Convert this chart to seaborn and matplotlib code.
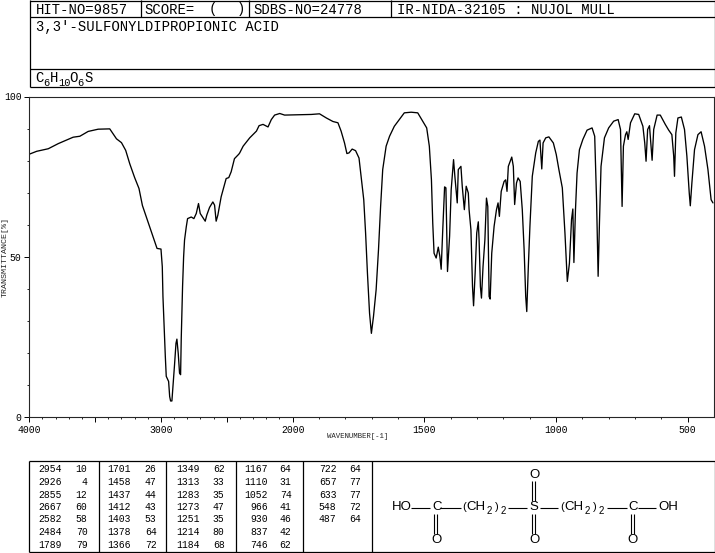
import numpy as np
import seaborn as sns
import matplotlib
matplotlib.use('Agg')
import matplotlib.pyplot as plt
from matplotlib.ticker import FixedLocator

# spectrum
wn_high = [4000,3944,3856,3780,3667,3616,3553,3477,3389,3338,3300,3268,3237,3200,3167,3141,3099,3061,3030,3000,
           2990,2985,2977,2967,2960,2942,2934,2927,2917,2909,2897,2886,2879,2869,2859,2851,2846,2836,2828,2821,
           2808,2798,2770,2750,2732,2715,2702,2664,2652,2631,2606,2593,2581,2568,2543,2505,2485,2467,2442,2409]
t_high = [82,82.9,83.7,85.3,87.3,87.6,89.1,89.8,89.9,86.8,85.6,83.2,79,74.7,71.3,66,60.9,56.2,52.6,52.4,
          46.9,37.6,29.3,18.9,12.7,11.1,6.4,5,5,9.5,16.3,23,24.3,19.9,13.7,13.2,24.6,40.7,50,55.2,
          59.3,61.9,62.4,61.9,63.5,66.6,63.5,61.1,63,65.4,67.1,66.1,61.1,63,68.7,74.4,74.7,76.5,80.6,82]

wn_mid = [2402,2376,2326,2275,2255,2225,2187,2162,2137,2098,2061,1929,1898,1872,1847,1828,1816,1803,1794,1786,
          1774,1761,1748,1740,1730,1723,1716,1708,1701,1693,1683,1674,1666,1658,1645,1632,1614,1595,1576,1550,
          1525,1506,1491,1481,1473,1468,1463,1455,1447,1441,1436,1430,1423,1418,1412,1404,1398,1389,1384,1375,
          1371,1361,1356,1348,1341,1333]
t_mid = [82.4,84.5,87.1,89.2,90.9,91.3,90.5,92.8,94.2,94.7,94.2,94.4,94.6,93.3,92.2,91.8,89.2,85.5,82.2,82.4,
         83.6,83.1,80.8,75.1,67.8,57.4,44.9,32.4,26.1,31.4,39.7,52.2,65.7,77.2,84.5,87.6,90.7,92.8,94.9,95.1,
         94.9,92.3,90.2,84.5,74,60.5,51.1,49.6,53,50.1,46.1,58.4,71.8,71.5,45.4,56.4,70.9,80.3,75.1,66.8,
         77.2,78.2,72,64.7,72,69.9]

wn_finger = [1330,1323,1317,1313,1307,1301,1295,1292,1287,1283,1277,1270,1264,1259,1254,1250,1244,1235,1226,1220,
             1215,1208,1197,1191,1186,1181,1168,1162,1157,1150,1144,1136,1128,1121,1115,1111,1105,1099,1090,1077,
             1067,1061,1054,1049,1039,1027,1010,999,989,976,966,957]
t_finger = [64.7,58.4,40.7,34.7,44.9,57.4,60.9,55.3,40.7,37.1,47,55.3,68.3,65.7,37.6,36.8,51.1,59.5,64.7,66.8,
            62.6,70.4,73.5,74,70.4,78.2,81.1,78.2,66.3,73,74.6,73.5,64.7,52.2,37.6,32.9,47,59.5,75.1,82.4,
            86,86.4,77.4,85.5,87.1,87.4,85.5,81.9,77.2,71.5,57.4,42.3]

wn_low = [949,941,936,932,926,920,911,898,882,863,853,846,840,835,829,816,800,781,764,755,
          749,744,736,731,726,717,701,686,670,663,658,652,645,640,635,629,616,604,585,572,
          560,553,550,545,537,524,512,503,494,490,484,474,461,449,436,423,411,404]
t_low = [48,61.6,64.9,48.2,64.7,76.1,83.4,86.6,89.5,90.2,87.6,67.8,43.9,60.5,78.2,87.1,90.2,92.3,92.8,89.7,
         65.7,84.5,88.1,89,86.6,91.8,94.6,94.4,90.7,85.5,79.8,89.7,90.9,85.5,80.1,89.7,94.2,94.2,91.3,89.5,
         88.1,81.4,75.1,88.6,93.3,93.6,89.7,81.4,69.9,65.9,73,83.4,88.1,89,84.5,77.2,67.8,66.8]

# peak table
peak_wn = [[2954,2926,2855,2667,2582,2484,1789],
           [1701,1458,1437,1412,1403,1378,1366],
           [1349,1313,1283,1273,1251,1214,1184],
           [1167,1110,1052,966,930,837,746],
           [722,657,633,548,487]]
peak_t = [[10,4,12,60,58,70,79],
          [26,47,44,43,53,64,72],
          [62,33,35,47,35,80,68],
          [64,31,74,41,46,42,62],
          [64,77,77,72,64]]

major_x = [4000,3500,3000,2500,2000,1500,1000,500]
x_labels = ['4000','','3000','','2000','1500','1000','500']
minor_x = list(range(3900,400,-100))

sns.set_style('ticks')
plt.rcParams['font.family'] = ['Liberation Mono', 'DejaVu Sans Mono']
plt.rcParams['axes.linewidth'] = 0.8

W, H = 715, 553
fig = plt.figure(figsize=(W/100, H/100), dpi=100)

# spectrum axes, wavenumber scale halves above 2000
def fwd(x):
    x = np.asarray(x, dtype=float)
    return np.where(x >= 2000, x/2 + 1000, x)

def inv(y):
    y = np.asarray(y, dtype=float)
    return np.where(y >= 2000, (y - 1000)*2, y)

ax = fig.add_axes([29.3/W, 1 - 417/H, 684.7/W, 320.5/H])
wavenumber = np.array(wn_high + wn_mid + wn_finger + wn_low)
transmittance = np.array(t_high + t_mid + t_finger + t_low)
sns.lineplot(x=wavenumber, y=transmittance, sort=False, estimator=None, color='black', linewidth=0.95, ax=ax)
ax.set_xscale('function', functions=(fwd, inv))
ax.set_xlim(4000, 400)
ax.set_ylim(0, 100)
ax.xaxis.set_major_locator(FixedLocator(major_x))
ax.xaxis.set_minor_locator(FixedLocator(minor_x))
ax.set_xticklabels(x_labels)
ax.yaxis.set_major_locator(FixedLocator([0, 50, 100]))
ax.yaxis.set_minor_locator(FixedLocator(list(range(10, 100, 10))))
ax.set_yticklabels(['0', '50', '100'])
ax.xaxis.set_minor_formatter(plt.NullFormatter())
ax.tick_params(which='major', length=3.6, width=0.7, labelsize=7, pad=2, colors='black')
ax.tick_params(which='minor', length=1.5, width=0.7)
ax.set_xlabel('WAVENUMBER[-1]', fontsize=5.3)
ax.xaxis.set_label_coords(328.5/684.7, -16/320)
ax.set_ylabel('TRANSMITTANCE[%]', fontsize=6)
ax.yaxis.set_label_coords(-21/684.7, 0.5)

# everything else is placed in pixel coords on an overlay
ov = fig.add_axes([0, 0, 1, 1])
ov.set_xlim(0, W)
ov.set_ylim(H, 0)
ov.axis('off')
ov.patch.set_alpha(0)

def seg(x0, y0, x1, y1, lw=0.9):
    ov.plot([x0, x1], [y0, y1], color='black', linewidth=lw, solid_capstyle='butt')

def txt(x, y, s, size=10, ha='left', family=None):
    ov.text(x, y, s, fontsize=size, ha=ha, va='center', color='black', family=family)

# header boxes
for y in [0.5, 17, 69, 87]:
    seg(29.5, y, 714.5, y)
seg(29.5, 0, 29.5, 87)
seg(714.5, 0, 714.5, 87)
for x in [140.5, 249, 391]:
    seg(x, 0, x, 17)

txt(35.5, 9.5, 'HIT-NO=9857')
txt(144, 9.5, 'SCORE=')
txt(209, 9.5, '(')
txt(237, 9.5, ')')
txt(253, 9.5, 'SDBS-NO=24778')
txt(397, 9.5, 'IR-NIDA-32105 : NUJOL MULL')
txt(35.5, 27, "3,3'-SULFONYLDIPROPIONIC ACID")

for x, s in [(35.5, 'C'), (50, 'H'), (69.5, 'O'), (84, 'S')]:
    txt(x, 78.5, s)
for x, s in [(43.5, '6'), (58, '10'), (77.5, '6')]:
    txt(x, 82.5, s, size=7.5)

# peak table
seg(29.3, 461, 714.5, 461)
seg(29.3, 552, 714.5, 552)
for x in [29.3, 98.7, 166.3, 235.7, 303.3, 372.3, 714.5]:
    seg(x, 461, x, 552)

wn_right = [62, 131, 199.5, 268, 336.5]
t_right = [87.5, 156.5, 224.5, 291.5, 361]
row_y = [469.5, 482, 494.5, 507, 519.5, 532, 544.5]
for c in range(len(peak_wn)):
    for r in range(len(peak_wn[c])):
        txt(wn_right[c], row_y[r], str(peak_wn[c][r]), size=7, ha='right')
        txt(t_right[c], row_y[r], str(peak_t[c][r]), size=7, ha='right')

# structure
sans = 'Liberation Sans'
my = 507.5
for x, s in [(402, 'HO'), (436.7, 'C'), (534.3, 'S'), (632.7, 'C'), (668.5, 'OH')]:
    txt(x, my, s, size=9.5, ha='center', family=sans)
for x, y in [(436.7, 540), (534.3, 540), (534.3, 474.5), (632.7, 540)]:
    txt(x, y, 'O', size=9.5, ha='center', family=sans)
for x0 in [463, 561]:
    txt(x0 + 1, my, '(', size=8, ha='center', family=sans)
    txt(x0 + 13, my, 'CH', size=9.5, ha='center', family=sans)
    txt(x0 + 26.5, my + 4, '2', size=7, ha='center', family=sans)
    txt(x0 + 34, my, ')', size=8, ha='center', family=sans)
    txt(x0 + 40, my + 4, '2', size=7, ha='center', family=sans)
for x0, x1 in [(411, 430), (440, 461), (508, 527), (540, 558), (607, 627), (638, 656)]:
    seg(x0, my, x1, my, lw=0.8)
for x in [433.5, 436.5, 631, 634]:
    seg(x, 514, x, 534, lw=0.8)
for x in [531.5, 534.5]:
    seg(x, 481, x, 501, lw=0.8)
    seg(x, 514, x, 534, lw=0.8)

fig.savefig('out.png', dpi=100)
